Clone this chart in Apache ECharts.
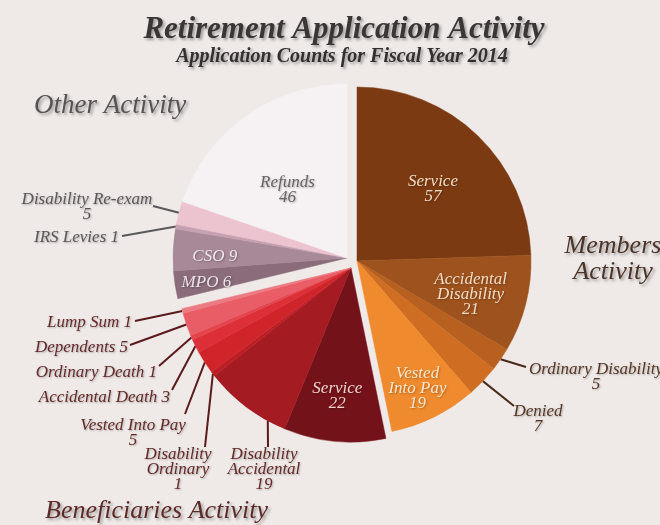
<!DOCTYPE html>
<html>
<head>
<meta charset="utf-8">
<script src="https://cdn.jsdelivr.net/npm/echarts@6/dist/echarts.min.js"></script>
<style>
  html, body { margin: 0; padding: 0; background: #efeae7; }
  #chart { width: 660px; height: 525px; }
</style>
</head>
<body>
<div id="chart"></div>
<script>
// ---- Data: application counts, fiscal year 2014 ----
const memberNames = ['Service', 'Accidental Disability', 'Ordinary Disability', 'Denied', 'Vested Into Pay'];
const memberValues = [57, 21, 5, 7, 19];

const beneficiaryNames = ['Service', 'Disability Accidental', 'Disability Ordinary', 'Vested Into Pay',
  'Accidental Death', 'Ordinary Death', 'Dependents', 'Lump Sum'];
const beneficiaryValues = [22, 19, 1, 5, 3, 1, 5, 1];

const otherNames = ['MPO', 'CSO', 'IRS Levies', 'Disability Re-exam', 'Refunds'];
const otherValues = [6, 9, 1, 5, 46];

const groupTitles = ['Members\nActivity', 'Beneficiaries Activity', 'Other Activity'];

// ---- Styling ----
const FONT = '"Liberation Serif", "DejaVu Serif", serif';
const R = 174;

const groups = [
  { names: memberNames, values: memberValues, center: [357, 261],
    colors: ['#7b3a12', '#9e531e', '#b8601f', '#cf6e23', '#f08a2e'],
    textColor: '#553626', lineColor: '#4a2a18' },
  { names: beneficiaryNames, values: beneficiaryValues, center: [351, 268],
    colors: ['#74121a', '#a51b22', '#bd1d25', '#d0242b', '#dc2f37', '#e4454d', '#e85d66', '#ec7a82'],
    textColor: '#642a2a', lineColor: '#5a1a1e' },
  { names: otherNames, values: otherValues, center: [347, 258],
    colors: ['#8a6c7b', '#a78997', '#c7a0b1', '#ebc4d0', '#f6f1f2'],
    textColor: '#5c5759', lineColor: '#5a5858' }
];

// Label placement per slice: inside labels sit at a fraction of the radius,
// outside labels are anchored with a straight leader line back to the rim.
const labelSpecs = [
  [
    { text: 'Service', sep: '\n', pos: 'in', f: 0.6, at: 0.53, color: '#f3dcc2' },
    { text: 'Accidental\nDisability', sep: '\n', pos: 'in', f: 0.68, at: 0.56, color: '#f5dcc4' },
    { text: 'Ordinary Disability', sep: '\n', pos: 'out', x: 596, y: 362, align: 'center', va: 'top', end: [526, 367], at: 0.5 },
    { text: 'Denied', sep: '\n', pos: 'out', x: 538, y: 404, align: 'center', va: 'top', end: [514, 406], at: 0.5 },
    { text: 'Vested\nInto Pay', sep: '\n', pos: 'in', f: 0.81, at: 0.53, color: '#fde6cc' }
  ],
  [
    { text: 'Service', sep: '\n', pos: 'in', f: 0.74, at: 0.52, color: '#f1d2cc' },
    { text: 'Disability\nAccidental', sep: '\n', pos: 'out', x: 264, y: 447, align: 'center', va: 'top', end: [268, 447], at: 0.21 },
    { text: 'Disability\nOrdinary', sep: '\n', pos: 'out', x: 178, y: 447, align: 'center', va: 'top', end: [205, 447], at: 0.5 },
    { text: 'Vested Into Pay', sep: '\n', pos: 'out', x: 133, y: 418, align: 'center', va: 'top', end: [185, 414], at: 0.5 },
    { text: 'Accidental Death', sep: ' ', pos: 'out', x: 170, y: 398, align: 'right', va: 'middle', end: [172, 390], at: 0.5 },
    { text: 'Ordinary Death', sep: ' ', pos: 'out', x: 157, y: 373, align: 'right', va: 'middle', end: [159, 366], at: 0.5 },
    { text: 'Dependents', sep: ' ', pos: 'out', x: 128, y: 348, align: 'right', va: 'middle', end: [130, 345], at: 0.5 },
    { text: 'Lump Sum', sep: ' ', pos: 'out', x: 132, y: 323, align: 'right', va: 'middle', end: [135, 321], at: 0.5 }
  ],
  [
    { text: 'MPO', sep: ' ', pos: 'in', f: 0.82, at: 0.41, color: '#ece3e8' },
    { text: 'CSO', sep: ' ', pos: 'in', f: 0.76, at: 0.35, color: '#efe7ec' },
    { text: 'IRS Levies', sep: ' ', pos: 'out', x: 119, y: 238, align: 'right', va: 'middle', end: [122, 236], at: 0.5 },
    { text: 'Disability Re-exam', sep: '\n', pos: 'out', x: 87, y: 192, align: 'center', va: 'top', end: [153, 206], at: 0.5 },
    { text: 'Refunds', sep: '\n', pos: 'in', f: 0.52, at: 0.42, color: '#686264' }
  ]
];

// ---- Flatten all slices so every group shares the same angular scale ----
const slices = [];
groups.forEach((g, gi) => {
  g.values.forEach((v, i) => slices.push({ gi, i, name: g.names[i], value: v }));
});
const total = slices.reduce((s, d) => s + d.value, 0);
let cum = 0;
slices.forEach(d => { d.start = cum; cum += d.value; });

function polar(c, r, frac) {
  const a = frac * 2 * Math.PI;
  return [c[0] + r * Math.sin(a), c[1] - r * Math.cos(a)];
}

const shadow = { textShadowColor: 'rgba(0,0,0,0.28)', textShadowBlur: 2, textShadowOffsetX: 1, textShadowOffsetY: 1 };

const series = groups.map((g, gi) => ({
  type: 'pie',
  center: g.center,
  radius: [0, R],
  startAngle: 90,
  clockwise: true,
  avoidLabelOverlap: false,
  silent: true,
  emphasis: { disabled: true },
  animation: false,
  data: slices.map(d => {
    if (d.gi !== gi) {
      return { name: d.name, value: d.value,
        itemStyle: { color: 'rgba(0,0,0,0)', borderWidth: 0 },
        label: { show: false }, labelLine: { show: false } };
    }
    const spec = labelSpecs[gi][d.i];
    const inside = spec.pos === 'in';
    return {
      name: d.name, value: d.value,
      itemStyle: { color: g.colors[d.i], borderColor: g.colors[d.i], borderWidth: 0.5 },
      label: Object.assign({
        show: true,
        position: inside ? 'inside' : 'outside',
        formatter: spec.text + spec.sep + '{c}',
        fontFamily: FONT,
        fontStyle: 'italic',
        fontSize: 17,
        lineHeight: 15,
        color: inside ? spec.color : g.textColor,
        align: 'center'
      }, shadow),
      labelLine: { show: !inside, lineStyle: { color: g.lineColor, width: 2 }, length: 10, length2: 0 }
    };
  }),
  labelLayout: function (params) {
    const d = slices[params.dataIndex];
    if (d.gi !== gi) return {};
    const spec = labelSpecs[gi][d.i];
    const mid = (d.start + spec.at * d.value) / total;
    if (spec.pos === 'in') {
      const p = polar(g.center, spec.f * R, mid);
      return { x: p[0], y: p[1], align: 'center', verticalAlign: 'middle' };
    }
    const p0 = polar(g.center, R, mid);
    return {
      x: spec.x, y: spec.y, align: spec.align, verticalAlign: spec.va,
      labelLinePoints: [p0, spec.end, spec.end]
    };
  }
}));

const headingShadow = { textShadowColor: 'rgba(0,0,0,0.35)', textShadowBlur: 3, textShadowOffsetX: 2, textShadowOffsetY: 2 };

const option = {
  backgroundColor: '#efeae7',
  title: [
    { text: 'Retirement Application Activity', left: 344, top: 14, textAlign: 'center', padding: 0,
      textStyle: Object.assign({ fontFamily: FONT, fontStyle: 'italic', fontWeight: 'bold', fontSize: 31, color: '#3a3636' }, headingShadow) },
    { text: 'Application Counts for Fiscal Year 2014', left: 342, top: 47, textAlign: 'center', padding: 0,
      textStyle: Object.assign({ fontFamily: FONT, fontStyle: 'italic', fontWeight: 'bold', fontSize: 20, color: '#343030' }, headingShadow) },
    { text: groupTitles[2], left: 34, top: 92, padding: 0,
      textStyle: Object.assign({ fontFamily: FONT, fontStyle: 'italic', fontWeight: 'normal', fontSize: 27, color: '#575353' }, headingShadow) },
    { text: groupTitles[0], left: 613, top: 233, textAlign: 'center', padding: 0,
      textStyle: Object.assign({ fontFamily: FONT, fontStyle: 'italic', fontWeight: 'normal', fontSize: 26, lineHeight: 26, color: '#4a3328' }, headingShadow) },
    { text: groupTitles[1], left: 45, top: 498, padding: 0,
      textStyle: Object.assign({ fontFamily: FONT, fontStyle: 'italic', fontWeight: 'normal', fontSize: 26, color: '#5c2a28' }, headingShadow) }
  ],
  series: series
};

const chart = echarts.init(document.getElementById('chart'), null, { renderer: 'canvas' });
chart.setOption(option);
</script>
</body>
</html>
